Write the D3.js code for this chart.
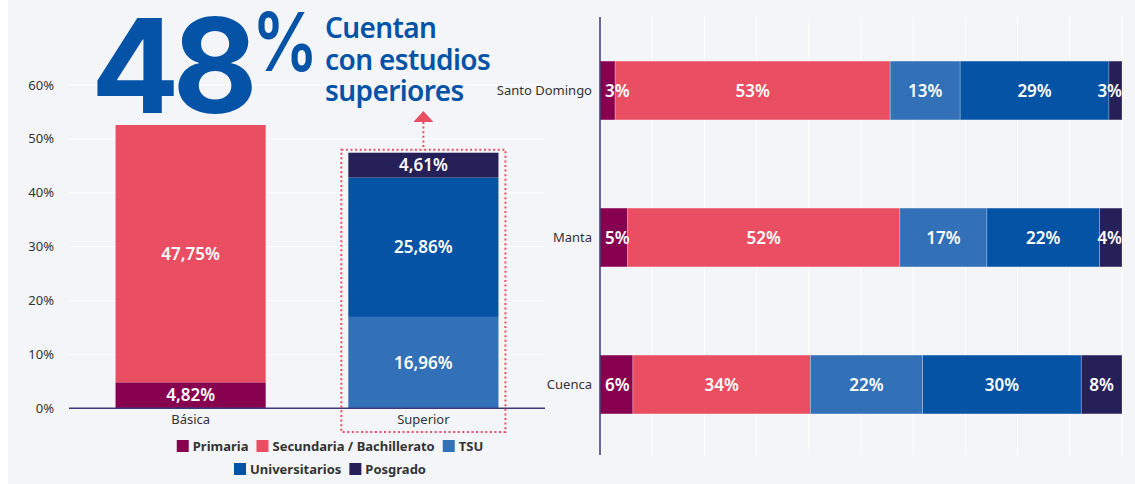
<!DOCTYPE html>
<html>
<head>
<meta charset="utf-8">
<script src="https://cdn.jsdelivr.net/npm/d3@7"></script>
<style>
  body { margin: 0; background: #fff; }
  svg { display: block; font-family: "Noto Sans", sans-serif; }
</style>
</head>
<body>
<svg id="chart" width="1135" height="484"></svg>
<script>
// Niveles educativos y colores
const levels = ["Primaria", "Secundaria / Bachillerato", "TSU", "Universitarios", "Posgrado"];
const levelColors = ["#87004f", "#e94e62", "#3270b8", "#0453a5", "#262059"];

// Panel izquierdo: Básica vs Superior
const groups = ["Básica", "Superior"];
const basicaValues = [4.82, 47.75, 0, 0, 0];
const superiorValues = [0, 0, 16.96, 25.86, 4.61];
const yTicks = [0, 10, 20, 30, 40, 50, 60];

// Panel derecho: ciudades
const cities = ["Santo Domingo", "Manta", "Cuenca"];
const santoDomingoValues = [2.9, 52.7, 13.4, 28.5, 2.5];
const mantaValues = [5.3, 52.2, 16.7, 21.6, 4.3];
const cuencaValues = [6.3, 34.0, 21.5, 30.4, 7.8];
const xTicks = [0, 10, 20, 30, 40, 50, 60, 70, 80, 90, 100];

const headlineNumber = "48";
const headlineText = ["Cuentan", "con estudios", "superiores"];

const svg = d3.select("#chart");
const esLocale = d3.formatLocale({ decimal: ",", thousands: ".", grouping: [3], currency: ["", "$"] });
const fmt2 = esLocale.format(".2f");

// fondo
svg.append("rect").attr("x", 8).attr("y", 0).attr("width", 1127).attr("height", 484).attr("fill", "#f4f5f8");

// ---------- Panel izquierdo ----------
const leftRows = groups.map((g, i) => {
  const vals = i === 0 ? basicaValues : superiorValues;
  const row = { group: g };
  levels.forEach((l, j) => row[l] = vals[j]);
  return row;
});

const x = d3.scaleBand().domain(groups).range([69, 545]).paddingInner(0.355).paddingOuter(0.2);
const y = d3.scaleLinear().domain([0, 60]).range([408.3, 85]);

const left = svg.append("g");

left.selectAll(".grid-y").data(yTicks).join("line")
  .attr("x1", 69).attr("x2", 545)
  .attr("y1", d => y(d)).attr("y2", d => y(d))
  .attr("stroke", "#ffffff").attr("stroke-width", 1);

left.selectAll(".ytick").data(yTicks).join("text")
  .attr("x", 54).attr("y", d => y(d)).attr("dy", "0.35em")
  .attr("text-anchor", "end")
  .style("font-size", "13px").style("fill", "#333")
  .text(d => d + "%");

const leftStack = d3.stack().keys(levels)(leftRows);

leftStack.forEach((layer, li) => {
  left.selectAll(".seg" + li).data(layer.filter(d => d[1] - d[0] > 0)).join("rect")
    .attr("x", d => x(d.data.group))
    .attr("width", x.bandwidth())
    .attr("y", d => y(d[1]))
    .attr("height", d => y(d[0]) - y(d[1]))
    .attr("fill", levelColors[li]);
  left.selectAll(".lab" + li).data(layer.filter(d => d[1] - d[0] > 0)).join("text")
    .attr("x", d => x(d.data.group) + x.bandwidth() / 2)
    .attr("y", d => (y(d[0]) + y(d[1])) / 2)
    .attr("dy", "0.36em")
    .attr("text-anchor", "middle")
    .style("font-size", "17px").style("font-weight", "600").style("fill", "#fff")
    .text(d => fmt2(d[1] - d[0]) + "%");
});

// linea base
left.append("line")
  .attr("x1", 69).attr("x2", 545).attr("y1", y(0)).attr("y2", y(0))
  .attr("stroke", "#3d3878").attr("stroke-width", 1.5);

left.selectAll(".xlab").data(groups).join("text")
  .attr("x", d => x(d) + x.bandwidth() / 2).attr("y", 424)
  .attr("text-anchor", "middle")
  .style("font-size", "13px").style("fill", "#333")
  .text(d => d);

// recuadro punteado alrededor de Superior
const supTop = y(d3.sum(superiorValues));
const boxX = x("Superior") - 7;
const boxW = x.bandwidth() + 14;
const boxCx = boxX + boxW / 2;
left.append("rect")
  .attr("x", boxX).attr("y", supTop - 3)
  .attr("width", boxW).attr("height", 432 - (supTop - 3))
  .attr("fill", "none").attr("stroke", "#e94e62")
  .attr("stroke-width", 2).attr("stroke-dasharray", "2,2.6");
left.append("line")
  .attr("x1", boxCx).attr("x2", boxCx).attr("y1", 122).attr("y2", supTop - 3)
  .attr("stroke", "#e94e62").attr("stroke-width", 2).attr("stroke-dasharray", "2,2.6");
left.append("path")
  .attr("d", `M${boxCx - 10},122 L${boxCx},111 L${boxCx + 10},122 Z`)
  .attr("fill", "#e94e62");

// titular
left.append("text")
  .attr("x", 91).attr("y", 113)
  .style("font-family", "Inter, sans-serif")
  .style("font-size", "131px").style("font-weight", "700")
  .style("letter-spacing", "-7px")
  .style("fill", "#0453a6")
  .text(headlineNumber);
left.append("text")
  .attr("transform", "translate(252,71) scale(1,1.22)")
  .style("font-family", "Inter, sans-serif")
  .style("font-size", "66px").style("font-weight", "600")
  .style("fill", "#0453a6")
  .text("%");
left.selectAll(".headline").data(headlineText).join("text")
  .attr("x", 325).attr("y", (d, i) => 38 + i * 31.5)
  .style("font-size", "28px").style("font-weight", "600")
  .style("letter-spacing", "-0.6px")
  .style("fill", "#0453a6")
  .text(d => d);

// leyenda
const legendRows = [levels.slice(0, 3), levels.slice(3)];
const legendY = [446, 469];
legendRows.forEach((items, r) => {
  const row = svg.append("g");
  let cursor = 0;
  items.forEach(name => {
    const li = levels.indexOf(name);
    const item = row.append("g").attr("transform", `translate(${cursor},0)`);
    item.append("rect").attr("x", 0).attr("y", -6).attr("width", 12).attr("height", 12)
      .attr("fill", levelColors[li]);
    const t = item.append("text").attr("x", 16).attr("dy", "0.35em")
      .style("font-size", "13px").style("font-weight", "700").style("fill", "#333")
      .text(name);
    cursor += 16 + t.node().getComputedTextLength() + 8;
  });
  const w = cursor - 8;
  row.attr("transform", `translate(${330 - w / 2},${legendY[r]})`);
});

// ---------- Panel derecho ----------
const cityValues = [santoDomingoValues, mantaValues, cuencaValues];
const rightRows = cities.map((c, i) => {
  const row = { city: c };
  levels.forEach((l, j) => row[l] = cityValues[i][j]);
  return row;
});

const xR = d3.scaleLinear().domain([0, 100]).range([600, 1122]);
const yR = d3.scaleBand().domain(cities).range([17, 458]).paddingInner(0.6).paddingOuter(0.3);

const right = svg.append("g");

right.selectAll(".grid-x").data(xTicks.slice(1)).join("line")
  .attr("x1", d => xR(d)).attr("x2", d => xR(d))
  .attr("y1", 17).attr("y2", 455)
  .attr("stroke", "#ffffff").attr("stroke-width", 1);

const rightStack = d3.stack().keys(levels).offset(d3.stackOffsetExpand)(rightRows);

rightStack.forEach((layer, li) => {
  right.selectAll(".rseg" + li).data(layer).join("rect")
    .attr("x", d => xR(d[0] * 100))
    .attr("width", d => xR(d[1] * 100) - xR(d[0] * 100))
    .attr("y", d => yR(d.data.city))
    .attr("height", yR.bandwidth())
    .attr("fill", levelColors[li])
    .attr("stroke", "rgba(255,255,255,0.3)").attr("stroke-width", 0.8);
});

rightStack.forEach((layer, li) => {
  right.selectAll(".rlab" + li).data(layer).join("text")
    .attr("y", d => yR(d.data.city) + yR.bandwidth() / 2)
    .attr("dy", "0.36em")
    .attr("text-anchor", "middle")
    .style("font-size", "17px").style("font-weight", "600").style("fill", "#fff")
    .text(d => Math.round(d.data[levels[li]]) + "%")
    .attr("x", function(d) {
      const half = this.getComputedTextLength() / 2;
      const cx = (xR(d[0] * 100) + xR(d[1] * 100)) / 2;
      return Math.min(Math.max(cx, xR(d[0] * 100) + 5 + half), xR(100) - half);
    });
});

right.append("line")
  .attr("x1", 600).attr("x2", 600).attr("y1", 17).attr("y2", 455)
  .attr("stroke", "#3d3878").attr("stroke-width", 1.5);

right.selectAll(".city").data(cities).join("text")
  .attr("x", 592).attr("y", d => yR(d) + yR.bandwidth() / 2).attr("dy", "0.35em")
  .attr("text-anchor", "end")
  .style("font-size", "13px").style("fill", "#333")
  .text(d => d);
</script>
</body>
</html>
